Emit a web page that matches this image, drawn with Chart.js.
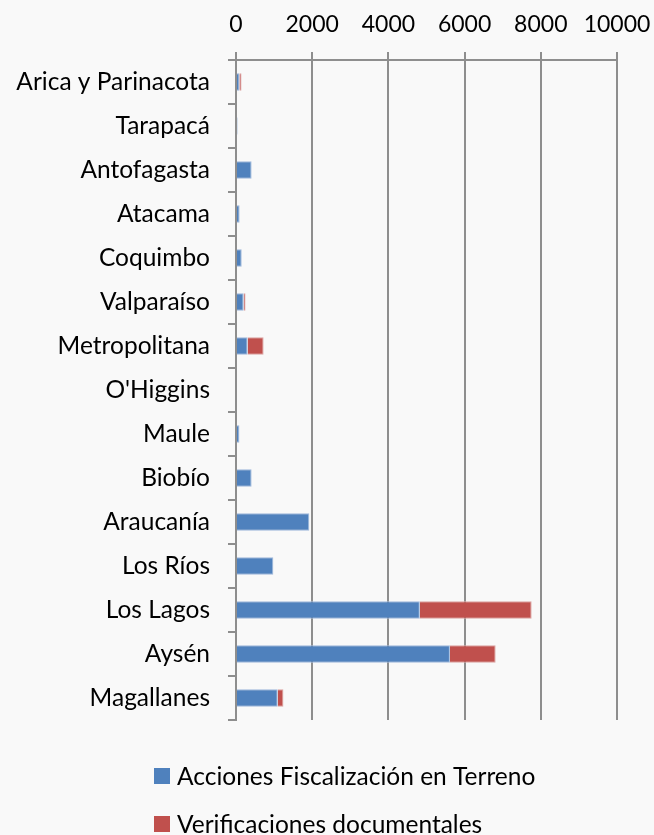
<!DOCTYPE html>
<html><head><meta charset="utf-8">
<script src="https://cdn.jsdelivr.net/npm/chart.js@4.4.0/dist/chart.umd.min.js"></script>
<style>html,body{margin:0;padding:0;background:#f9f9f9;} #wrap{width:654px;height:835px;position:relative}</style>
</head><body><div id="wrap"><canvas id="c" width="654" height="835"></canvas></div>
<script>
const categories = ["Arica y Parinacota","Tarapacá","Antofagasta","Atacama","Coquimbo","Valparaíso","Metropolitana","O'Higgins","Maule","Biobío","Araucanía","Los Ríos","Los Lagos","Aysén","Magallanes"];
const fiscalizacion = [90, 40, 410, 95, 150, 200, 305, 0, 90, 410, 1925, 980, 4825, 5615, 1095];
const verificaciones = [55, 0, 0, 0, 0, 50, 420, 0, 0, 0, 0, 0, 2935, 1200, 150];
const xTicks = [0, 2000, 4000, 6000, 8000, 10000];
const seriesNames = ["Acciones Fiscalización en Terreno", "Verificaciones documentales"];
const seriesColors = ["#4f81bd", "#c0504d"];
const seriesBorders = ["#9fb9dc", "#dba3a1"];

const FONT = "Lato";
const GRID = "#8e8e8e";

const legendPlugin = {
  id: 'customLegend',
  afterDraw(chart) {
    const ctx = chart.ctx;
    ctx.save();
    ctx.font = "24.5px " + FONT;
    ctx.textBaseline = "middle";
    ctx.textAlign = "left";
    const rows = [776, 824];
    chart.data.datasets.forEach((ds, i) => {
      ctx.fillStyle = ds.backgroundColor;
      ctx.fillRect(154, rows[i] - 8, 16, 16);
      ctx.fillStyle = "#000";
      ctx.fillText(ds.label, 177, rows[i] + 1);
    });
    ctx.restore();
  }
};

new Chart(document.getElementById('c'), {
  type: 'bar',
  data: {
    labels: categories,
    datasets: [
      { label: seriesNames[0], data: fiscalizacion, backgroundColor: seriesColors[0], borderColor: seriesBorders[0], borderWidth: 1, categoryPercentage: 0.8, barPercentage: 0.5 },
      { label: seriesNames[1], data: verificaciones, backgroundColor: seriesColors[1], borderColor: seriesBorders[1], borderWidth: 1, categoryPercentage: 0.8, barPercentage: 0.5 }
    ]
  },
  options: {
    indexAxis: 'y',
    responsive: false,
    devicePixelRatio: 1,
    animation: false,
    layout: { padding: { top: 0, right: 37, bottom: 115, left: 0 } },
    plugins: { legend: { display: false }, tooltip: { enabled: false } },
    scales: {
      x: {
        position: 'top',
        stacked: true,
        min: 0, max: 10000,
        afterBuildTicks(scale) { scale.ticks = xTicks.map(v => ({ value: v })); },
        afterFit(scale) { scale.height = 60; scale.paddingLeft = 0; scale.paddingRight = 0; },
        ticks: { color: '#000', font: { family: FONT, size: 23 }, padding: 14, maxRotation: 0, callback: v => String(v) },
        grid: { color: GRID, lineWidth: 2, tickLength: 8, drawTicks: true },
        border: { color: GRID, width: 2 }
      },
      y: {
        stacked: true,
        afterFit(scale) { scale.width = 236; },
        ticks: { color: '#000', font: { family: FONT, size: 24.5 }, padding: 18 },
        grid: { color: GRID, lineWidth: 2, tickLength: 8, drawOnChartArea: false, drawTicks: true, offset: true },
        border: { color: GRID, width: 2 }
      }
    }
  },
  plugins: [legendPlugin]
});
</script></body></html>
